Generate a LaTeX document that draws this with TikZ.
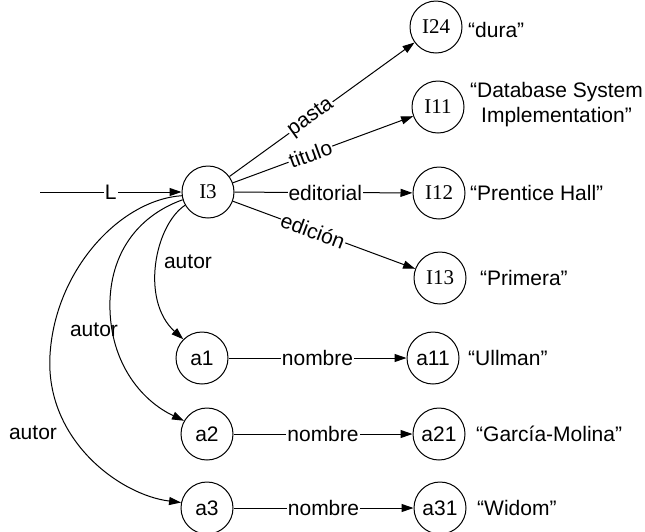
\documentclass[tikz,border=0pt]{standalone}
\usepackage{fontspec}
\setmainfont{Liberation Sans}
\newfontfamily\serifnode{Liberation Serif}
\usetikzlibrary{arrows.meta}
\begin{document}
\begin{tikzpicture}[x=1pt,y=1pt,
  every node/.style={font=\fontsize{21}{25}\selectfont},
  obj/.style={circle,draw,line width=1pt,minimum size=52pt,inner sep=0pt},
  iobj/.style={obj,font=\fontsize{21}{25}\selectfont\serifnode},
  val/.style={anchor=west,inner sep=0pt},
  arr/.style={line width=1pt,-{Triangle[length=12pt,width=8pt]}},
  lab/.style={fill=white,inner sep=1pt},
]
\useasboundingbox (0,0) rectangle (645,-531);
% nodes
\node[iobj] (I3)  at (208,-192) {I3};
\node[iobj] (I24) at (436,-27)  {I24};
\node[iobj] (I11) at (438,-107) {I11};
\node[iobj] (I12) at (439,-193) {I12};
\node[iobj] (I13) at (440,-278) {I13};
\node[obj]  (a1)  at (202,-358) {a1};
\node[obj]  (a11) at (433,-358) {a11};
\node[obj]  (a2)  at (207,-434) {a2};
\node[obj]  (a21) at (439,-434) {a21};
\node[obj]  (a3)  at (207,-508) {a3};
\node[obj]  (a31) at (440,-508) {a31};
\coordinate (Lstart) at (40,-192);
% values
\node[val] (v24) at (468,-30) {“dura”};
\node[align=center,inner sep=0pt] (v11) at (556.5,-104.5) {“Database System\\Implementation”};
\node[val] (v12) at (470,-193) {“Prentice Hall”};
\node[val] (v13) at (480,-278) {“Primera”};
\node[val] (v1)  at (468,-358) {“Ullman”};
\node[val] (v2)  at (476,-434) {“García-Molina”};
\node[val] (v3)  at (477,-508) {“Widom”};
% edges
\draw[arr] (Lstart) -- node[lab]{L} (I3);
\draw[arr] (I3) -- node[lab,sloped,pos=0.44]{pasta} (I24);
\draw[arr] (I3) -- node[lab,sloped,pos=0.43]{titulo} (I11);
\draw[arr] (I3) -- node[lab,pos=0.51]{editorial} (I12);
\draw[arr] (I3) -- node[lab,sloped,pos=0.44]{edición} (I13);
\draw[arr] (a1) -- node[lab]{nombre} (a11);
\draw[arr] (a2) -- node[lab]{nombre} (a21);
\draw[arr] (a3) -- node[lab]{nombre} (a31);
% autor curves
\draw[arr] (I3.210) .. controls (155,-225) and (140,-300) .. (a1.135);
\draw[arr] (I3.197) .. controls (140,-215) and (112,-250) .. (110,-300)
   .. controls (108,-360) and (140,-400) .. (a2.150);
\draw[arr] (I3.188) .. controls (120,-200) and (55,-270) .. (50,-355)
   .. controls (45,-440) and (120,-495) .. (a3.168);
\node (au1) at (188,-262) {autor};
\node (au2) at (94,-330) {autor};
\node (au3) at (33,-433) {autor};
\end{tikzpicture}
\end{document}
